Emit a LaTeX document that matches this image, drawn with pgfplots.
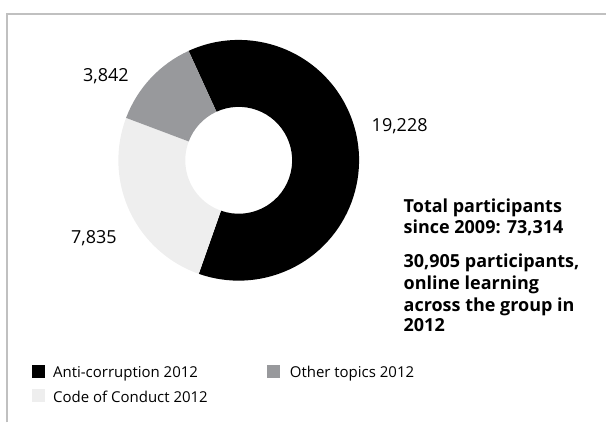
\documentclass[border=0pt]{standalone}
\usepackage{pgfplots}
\pgfplotsset{compat=1.18}
\usepackage{pgfplotstable}
\usepackage{fontspec}
\setmainfont{Open Sans}
\definecolor{sliceLight}{RGB}{238,238,238}
\definecolor{sliceGray}{RGB}{152,153,156}
\definecolor{frameGray}{RGB}{192,192,192}

\pgfplotstableread{
label value
Anti-corruption 19228
CodeOfConduct 7835
OtherTopics 3842
}\donutdata

\begin{document}
\begin{tikzpicture}
\pgfplotstablegetelem{0}{value}\of\donutdata \edef\va{\pgfplotsretval}
\pgfplotstablegetelem{1}{value}\of\donutdata \edef\vb{\pgfplotsretval}
\pgfplotstablegetelem{2}{value}\of\donutdata \edef\vc{\pgfplotsretval}
\edef\tot{\fpeval{\va+\vb+\vc}}
\edef\aA{114.6}
\edef\aB{\fpeval{\aA-360*\va/\tot}}
\edef\aC{\fpeval{\aB-360*\vb/\tot}}
\edef\aD{\fpeval{\aC-360*\vc/\tot}}
\begin{axis}[
  width=607bp, height=423bp, scale only axis,
  xmin=0, xmax=607, ymin=0, ymax=423,
  hide axis, clip=false,
]
\path (axis cs:0,0) rectangle (axis cs:607,423);
% frame
\draw[frameGray, line width=1.5bp] (axis cs:7,0) -- (axis cs:7,409) -- (axis cs:607,409);
% donut
\fill[black] (axis cs:239,262.5) ++(\aA:120.5bp) arc[start angle=\aA, end angle=\aB, radius=120.5bp]
  -- ([shift={(\aB:53.5bp)}]axis cs:239,262.5) arc[start angle=\aB, end angle=\aA, radius=53.5bp] -- cycle;
\fill[sliceLight] (axis cs:239,262.5) ++(\aB:120.5bp) arc[start angle=\aB, end angle=\aC, radius=120.5bp]
  -- ([shift={(\aC:53.5bp)}]axis cs:239,262.5) arc[start angle=\aC, end angle=\aB, radius=53.5bp] -- cycle;
\fill[sliceGray] (axis cs:239,262.5) ++(\aC:120.5bp) arc[start angle=\aC, end angle=\aD, radius=120.5bp]
  -- ([shift={(\aD:53.5bp)}]axis cs:239,262.5) arc[start angle=\aD, end angle=\aC, radius=53.5bp] -- cycle;
% value labels
\node[anchor=base, inner sep=0, font=\fontsize{18bp}{21bp}\selectfont] at (axis cs:106,341.3) {3,842};
\node[anchor=base, inner sep=0, font=\fontsize{18bp}{21bp}\selectfont] at (axis cs:94,179) {7,835};
\node[anchor=base west, inner sep=0, font=\fontsize{18bp}{21bp}\selectfont] at (axis cs:372,291) {19,228};
% side text
\begin{scope}[every node/.style={anchor=base west, inner sep=0, font=\bfseries\fontsize{18bp}{21bp}\selectfont}]
\node at (axis cs:404,210) {Total participants};
\node at (axis cs:404,189) {since 2009: 73,314};
\node at (axis cs:404,155) {30,905 participants,};
\node at (axis cs:404,133) {online learning};
\node at (axis cs:404,111) {across the group in};
\node at (axis cs:404,91) {2012};
\end{scope}
% legend
\fill[black] (axis cs:32,45) rectangle (axis cs:45,58);
\fill[sliceGray] (axis cs:267,45) rectangle (axis cs:280,58);
\fill[sliceLight] (axis cs:32,21) rectangle (axis cs:45,34);
\begin{scope}[every node/.style={anchor=base west, inner sep=0, font=\fontsize{15bp}{18bp}\selectfont}]
\node at (axis cs:53,45) {Anti-corruption 2012};
\node at (axis cs:290,45) {Other topics 2012};
\node at (axis cs:53,20.5) {Code of Conduct 2012};
\end{scope}
\end{axis}
\end{tikzpicture}
\end{document}
